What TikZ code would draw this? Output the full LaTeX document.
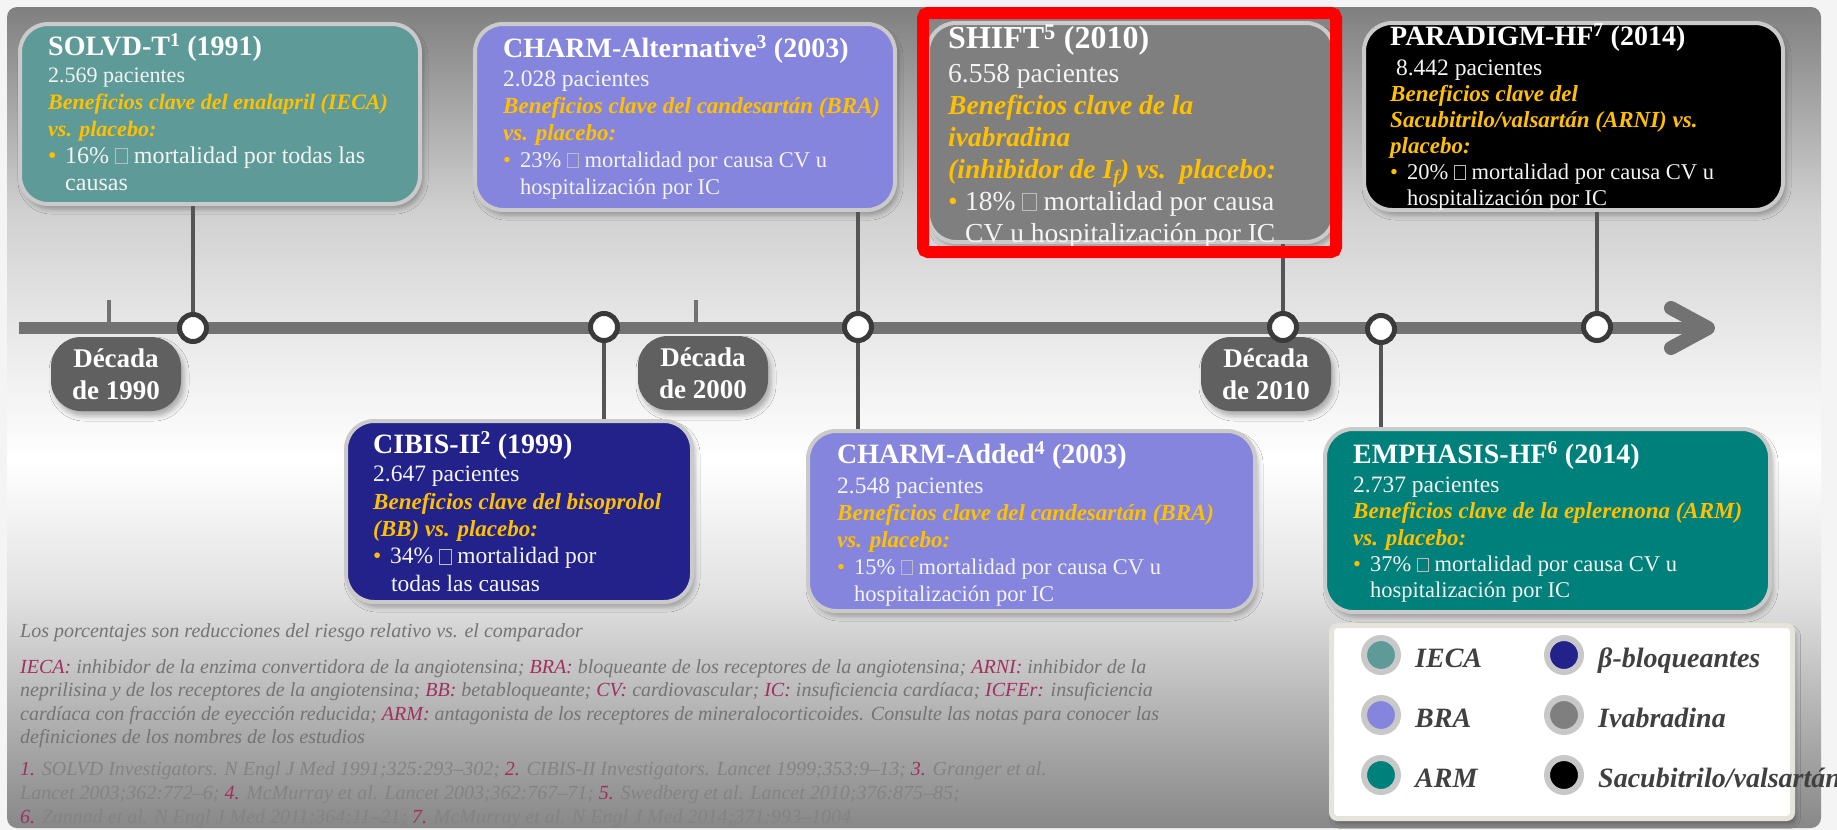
\documentclass[tikz,border=0pt]{standalone}
\usepackage{fontspec}
\setmainfont{Liberation Serif}
\usetikzlibrary{shadows.blur}

% palette
\definecolor{ieca}{HTML}{5E9B98}
\definecolor{bra}{HTML}{8585DD}
\definecolor{bblk}{HTML}{22228A}
\definecolor{ivab}{HTML}{7F7F7F}
\definecolor{arm}{HTML}{00807A}
\definecolor{arni}{HTML}{000000}
\definecolor{gold}{HTML}{FFC000}
\definecolor{boxedge}{HTML}{CACACA}
\definecolor{axisgray}{HTML}{727272}
\definecolor{stemgray}{HTML}{555555}
\definecolor{ringgray}{HTML}{3A3A3A}
\definecolor{pillgray}{HTML}{606060}
\definecolor{legtext}{HTML}{404040}
\definecolor{legedge}{HTML}{E4E4DC}
\definecolor{legring}{HTML}{C8C8C8}
\definecolor{abbr}{HTML}{A0305E}
\definecolor{notegray}{HTML}{747474}
\definecolor{refgray}{HTML}{838383}
\definecolor{tofugray}{HTML}{BDBDBD}
\definecolor{pageback}{HTML}{F4F4F4}
\definecolor{bodywhite}{HTML}{F4F4F4}

% panel background: gray at the top, white in the middle, gray at the bottom
\pgfdeclareverticalshading{panelshade}{100bp}{%
  rgb(0bp)=(0.533,0.533,0.533);
  rgb(25bp)=(0.533,0.533,0.533);
  rgb(32.8bp)=(0.722,0.722,0.722);
  rgb(38.9bp)=(0.878,0.878,0.878);
  rgb(47.4bp)=(1,1,1);
  rgb(55.3bp)=(0.91,0.91,0.91);
  rgb(62.6bp)=(0.816,0.816,0.816);
  rgb(75bp)=(0.5,0.5,0.5);
  rgb(100bp)=(0.5,0.5,0.5)}

\newcommand\gold[1]{\textcolor{gold}{\bfseries\itshape #1}}
\newcommand\blt{\makebox[17pt][l]{\textcolor{gold}{\textbullet}}}
\newcommand\tofu{\textcolor{tofugray}{\setlength{\fboxsep}{0pt}\setlength{\fboxrule}{0.8pt}\fbox{\rule{0pt}{0.58em}\hspace{0.46em}}}}
\newcommand\sz[1]{\fontsize{#1}{27}\selectfont}
\newcommand\ab[1]{\textcolor{abbr}{#1}}

\begin{document}
\begin{tikzpicture}[x=1pt,y=-1pt,
  trial/.style={draw=boxedge, line width=4pt, rounded corners=28pt, inner sep=0pt,
    anchor=north west,
    blur shadow={shadow xshift=3pt, shadow yshift=-5pt, shadow blur radius=5pt, shadow opacity=30}},
  trialtext/.style={anchor=north west, inner sep=0pt, align=left, text=bodywhite},
  dot/.style={circle, draw=ringgray, fill=white, line width=5pt, minimum size=27pt, inner sep=0pt},
  stem/.style={draw=stemgray, line width=4.5pt},
  tickline/.style={draw=axisgray, line width=4.5pt},
  axisline/.style={draw=axisgray, line width=12pt},
  chevron/.style={draw=axisgray, line width=14pt, line cap=round, line join=round},
  pill/.style={fill=pillgray, rounded corners=30pt, minimum width=130pt, minimum height=74pt,
    inner sep=0pt, text=white, align=center, font=\fontsize{27}{32}\selectfont\bfseries,
    blur shadow={shadow xshift=3pt, shadow yshift=-5pt, shadow blur radius=5pt, shadow opacity=30}},
  legbox/.style={draw=legedge, fill=white, line width=5pt, rounded corners=6pt, inner sep=0pt,
    anchor=north west,
    blur shadow={shadow xshift=3pt, shadow yshift=-5pt, shadow blur radius=5pt, shadow opacity=30}},
  legdot/.style={circle, draw=legring, line width=6pt, minimum size=34pt, inner sep=0pt},
  legtxt/.style={anchor=base west, inner sep=0pt, text=legtext,
    font=\fontsize{28}{30}\selectfont\bfseries\itshape},
  note/.style={inner sep=0pt, align=left, font=\fontsize{20}{23.5}\selectfont\itshape},
  highlight/.style={draw=red, line width=12pt, rounded corners=5pt, inner sep=0pt}
]
\useasboundingbox (0,0) rectangle (1837,830);
\clip (0,0) rectangle (1837,830);
\fill[pageback] (0,0) rectangle (1837,830);
\shade[shading=panelshade, rounded corners=10pt] (7,7) rectangle (1821,828);

% decade ticks and the time axis
\coordinate (tstart) at (19,328);
\coordinate (ttip) at (1708,328);
\coordinate (aw1) at (1671,308);
\coordinate (aw2) at (1671,348);
\coordinate (k90) at (109,300);
\coordinate (k00) at (696,300);
\draw[tickline] (k90) -- (k90 |- tstart);
\draw[tickline] (k00) -- (k00 |- tstart);
\draw[axisline] (tstart) -- (ttip);
\draw[chevron] (aw1) -- (ttip) -- (aw2);

% decade labels
\node[pill] (d90) at (116,374) {Década\\de 1990};
\node[pill] (d00) at (703,373) {Década\\de 2000};
\node[pill] (d10) at (1266,374) {Década\\de 2010};

% trial boxes
\node[trial, fill=ieca, minimum width=400pt, minimum height=180pt] (solvd) at (18,22) {};
\node[trial, fill=bra, minimum width=420pt, minimum height=186pt] (charmalt) at (473,22) {};
\node[trial, fill=ivab, minimum width=406pt, minimum height=219pt] (shift) at (926,21) {};
\node[trial, fill=arni, minimum width=419pt, minimum height=187pt] (paradigm) at (1362,21) {};
\node[trial, fill=bblk, minimum width=346pt, minimum height=181pt] (cibis) at (344,419) {};
\node[trial, fill=bra, minimum width=447pt, minimum height=180pt] (charmadd) at (806,429) {};
\node[trial, fill=arm, minimum width=445pt, minimum height=183pt] (emph) at (1323,427) {};

% trial texts
\node[trialtext, font=\fontsize{23}{27}\selectfont] (solvdtx) at (48,28) {%
  {\rule{0pt}{27pt}\sz{28}\bfseries\color{white}SOLVD-T\textsuperscript{1} (1991)}\\
  {\sz{22}2.569 pacientes}\\
  {\sz{22}\gold{Beneficios clave del enalapril (IECA)}}\\
  {\sz{22}\gold{vs. placebo:}}\\
  {\sz{24}\blt 16\% \tofu{} mortalidad por todas las}\\
  {\sz{24}\hspace*{17pt}causas}};

\node[trialtext, font=\fontsize{23}{27}\selectfont] (charmalttx) at (503,30) {%
  {\rule{0pt}{27pt}\sz{28}\bfseries\color{white}CHARM-Alternative\textsuperscript{3} (2003)}\\[2pt]
  {\sz{23.5}2.028 pacientes}\\
  {\sz{23}\gold{Beneficios clave del candesartán (BRA)}}\\
  {\sz{23}\gold{vs. placebo:}}\\
  {\sz{22.5}\blt 23\% \tofu{} mortalidad por causa CV u}\\
  {\sz{22.5}\hspace*{17pt}hospitalización por IC}};

\node[trialtext, font=\fontsize{27.5}{32}\selectfont] (shifttx) at (948,16) {%
  {\rule{0pt}{32pt}\sz{32}\bfseries\color{white}SHIFT\textsuperscript{5} (2010)}\\[2pt]
  {\sz{27.5}6.558 pacientes}\\
  {\sz{27.5}\gold{Beneficios clave de la}}\\
  {\sz{27.5}\gold{ivabradina}}\\
  {\sz{27.5}\gold{(inhibidor de I\textsubscript{f}) vs.\ \ placebo:}}\\
  {\sz{27.5}\blt 18\% \tofu{} mortalidad por causa}\\
  {\sz{27.5}\hspace*{17pt}CV u hospitalización por IC}};

\node[trialtext, font=\fontsize{23.5}{26}\selectfont] (paradigmtx) at (1390,18) {%
  {\rule{0pt}{27pt}\sz{28}\bfseries\color{white}PARADIGM-HF\textsuperscript{7} (2014)}\\[4pt]
  {\sz{23.5}\hspace*{0.25em}8.442 pacientes}\\
  {\sz{23}\gold{Beneficios clave del}}\\
  {\sz{23}\gold{Sacubitrilo/valsartán (ARNI) vs.}}\\
  {\sz{23}\gold{placebo:}}\\
  {\sz{22.5}\blt 20\% \tofu{} mortalidad por causa CV u}\\
  {\sz{22.5}\hspace*{17pt}hospitalización por IC}};

\node[trialtext, font=\fontsize{23.5}{27.4}\selectfont] (cibistx) at (373,426) {%
  {\rule{0pt}{27pt}\sz{28}\bfseries\color{white}CIBIS-II\textsuperscript{2} (1999)}\\[1pt]
  {\sz{23.5}2.647 pacientes}\\
  {\sz{23}\gold{Beneficios clave del bisoprolol}}\\
  {\sz{23}\gold{(BB) vs. placebo:}}\\
  {\sz{23.5}\blt 34\% \tofu{} mortalidad por}\\
  {\sz{23.5}\hspace*{18pt}todas las causas}};

\node[trialtext, font=\fontsize{23.5}{27}\selectfont] (charmaddtx) at (837,436) {%
  {\rule{0pt}{27pt}\sz{28}\bfseries\color{white}CHARM-Added\textsuperscript{4} (2003)}\\[3pt]
  {\sz{23.5}2.548 pacientes}\\
  {\sz{23}\gold{Beneficios clave del candesartán (BRA)}}\\
  {\sz{23}\gold{vs. placebo:}}\\
  {\sz{22.5}\blt 15\% \tofu{} mortalidad por causa CV u}\\
  {\sz{22.5}\hspace*{17pt}hospitalización por IC}};

\node[trialtext, font=\fontsize{23.5}{26.3}\selectfont] (emphtx) at (1353,436) {%
  {\rule{0pt}{27pt}\sz{28}\bfseries\color{white}EMPHASIS-HF\textsuperscript{6} (2014)}\\[3pt]
  {\sz{23.5}2.737 pacientes}\\
  {\sz{23}\gold{Beneficios clave de la eplerenona (ARM)}}\\
  {\sz{23}\gold{vs. placebo:}}\\
  {\sz{22.5}\blt 37\% \tofu{} mortalidad por causa CV u}\\
  {\sz{22.5}\hspace*{17pt}hospitalización por IC}};

% markers on the axis
\node[dot] (c1) at (193,328) {};
\node[dot] (c2) at (604,327) {};
\node[dot] (c3) at (858,327) {};
\node[dot] (c4) at (1283,327) {};
\node[dot] (c5) at (1381,329) {};
\node[dot] (c6) at (1597,327) {};

% stems from the markers to the boxes
\draw[stem] (c1.north) -- (c1.north |- solvd.south);
\draw[stem] (c2.south) -- (c2.south |- cibis.north);
\draw[stem] (c3.north) -- (c3.north |- charmalt.south);
\draw[stem] (c3.south) -- (c3.south |- charmadd.north);
\draw[stem] (c4.north) -- (c4.north |- shift.south);
\draw[stem] (c5.south) -- (c5.south |- emph.north);
\draw[stem] (c6.north) -- (c6.north |- paradigm.south);

% legend
\node[legbox, minimum width=461pt, minimum height=193pt] (legend) at (1329,623) {};
\node[legdot, fill=ieca] (lg1) at (1381,655) {};
\node[legdot, fill=bra] (lg2) at (1381,715) {};
\node[legdot, fill=arm] (lg3) at (1381,775) {};
\node[legdot, fill=bblk] (lg4) at (1564,655) {};
\node[legdot, fill=ivab] (lg5) at (1564,715) {};
\node[legdot, fill=arni] (lg6) at (1564,775) {};
\node[legtxt] (lg1t) at (1415,667) {IECA};
\node[legtxt] (lg2t) at (1415,727) {BRA};
\node[legtxt] (lg3t) at (1415,787) {ARM};
\node[legtxt] (lg4t) at (1598,667) {β-bloqueantes};
\node[legtxt] (lg5t) at (1598,727) {Ivabradina};
\node[legtxt] (lg6t) at (1598,787) {Sacubitrilo/valsartán};

% footnotes
\node[note, anchor=base west, text=notegray] (pct) at (20,637)
  {Los porcentajes son reducciones del riesgo relativo vs. el comparador};
\node[note, anchor=north west, text=notegray] (abbrv) at (20,655) {%
  \rule{0pt}{18pt}\ab{IECA:} inhibidor de la enzima convertidora de la angiotensina; \ab{BRA:} bloqueante de los receptores de la angiotensina; \ab{ARNI:} inhibidor de la\\
  neprilisina y de los receptores de la angiotensina; \ab{BB:} betabloqueante; \ab{CV:} cardiovascular; \ab{IC:} insuficiencia cardíaca; \ab{ICFEr:} insuficiencia\\
  cardíaca con fracción de eyección reducida; \ab{ARM:} antagonista de los receptores de mineralocorticoides. Consulte las notas para conocer las\\
  definiciones de los nombres de los estudios};
\node[note, anchor=north west, text=refgray, font=\fontsize{20}{24}\selectfont\itshape] (refs) at (20,757) {%
  \rule{0pt}{18pt}\ab{1.} SOLVD Investigators. N Engl J Med 1991;325:293–302; \ab{2.} CIBIS-II Investigators. Lancet 1999;353:9–13; \ab{3.} Granger et al.\\
  Lancet 2003;362:772–6; \ab{4.} McMurray et al. Lancet 2003;362:767–71; \ab{5.} Swedberg et al. Lancet 2010;376:875–85;\\
  \ab{6.} Zannad et al. N Engl J Med 2011;364:11–21; \ab{7.} McMurray et al. N Engl J Med 2014;371:993–1004};

% highlight frame
\node[highlight, minimum width=413pt, minimum height=239pt] (hl) at (1129.5,132.5) {};
\end{tikzpicture}
\end{document}
